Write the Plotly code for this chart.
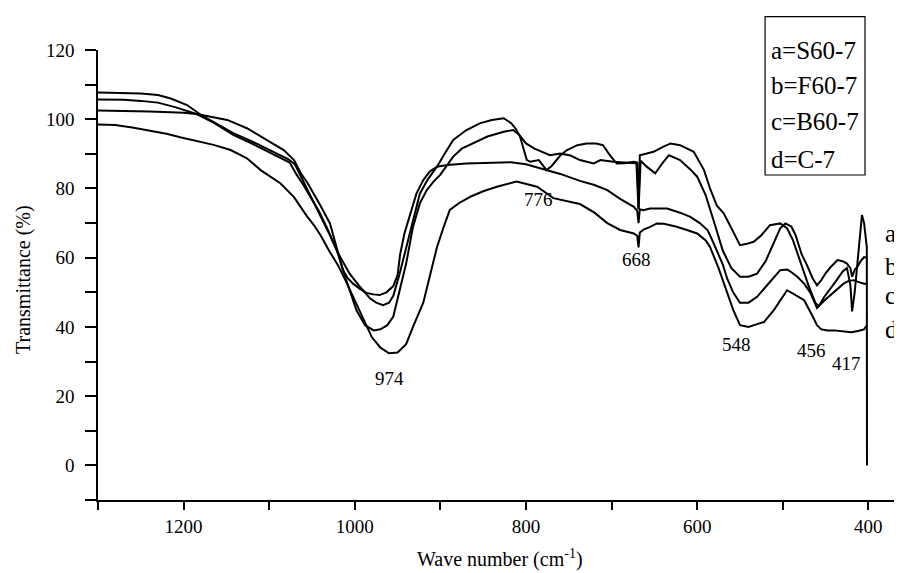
import plotly.graph_objects as go

# ---- data (wavenumber cm^-1, transmittance %) ----
wn_a = [1300,1270,1250,1230,1215,1196,1177,1160,1142,1122,1103,1087,1078,1070,1060,1050,1040,1030,1020,1010,1006,994,982,975,967,960,955,948,940,932,924,915,904,895,885,870,854,840,826,817,811,807,799,795,785,776,770,760,752,740,729,718,710,702,694,685,674,670,668.5,667,664,651,640,631,620,604,592,585,577,569,560,550,542,534,525,515,503,495,488,480,470,462,458,452,444,437,430,425,421,419,416,412,409,407.5,405,403,401.8,401.6]
T_a = [107.7,107.6,107.4,107,106,104.1,100.8,98.5,96,93.8,91.5,89.5,88.5,87,82,76.7,72,67,61.5,57,55.4,51.6,48.2,47,46.3,47,49,55,63,71,78.5,82.5,86.3,90,94,96.8,98.8,99.8,100.3,98.8,96.9,95,88.2,87.7,88.2,85.3,86.5,89.5,91.1,92.5,93,93,92.5,89.6,87.2,87.3,87.7,87.5,74,89.6,89.8,90.6,92,93,92.5,90.6,85.3,80,75,72.8,68.5,63.6,64,64.6,66.5,69.4,69.9,68.5,65,59,52,47,46,48.5,51,53.5,56,57,52,44.5,50,60,68,72.3,70,66,63,0]

wn_b = [1300,1270,1250,1230,1210,1196,1185,1165,1142,1122,1103,1085,1076,1068,1060,1052,1042,1033,1021,1010,998,988,978,970,962,955,948,940,932,924,916,908,900,885,875,862,845,826,815,808,800,790,780,772,760,748,737,721,713,698,685,675,671,668.5,666,659,649,640,633,620,608,600,590,581,570,560,550,540,530,520,511,503,497,490,485,478,472,465,460,455,450,444,436,430,425,421,419,416,413,409,405,401.6]
T_b = [105.7,105.6,105.3,104.8,103.5,102.3,101.5,99,95.5,93.2,90.8,88.7,87.5,84,81,77.6,73.5,68.9,62.2,53.5,44.8,40.5,39,39.3,40.5,43,50,58.3,68.9,75.7,79.5,82,84,89.2,91.5,93,95,96.4,96.9,95.5,93,91.5,90.5,89.6,90.1,89.5,88.2,87.2,88.2,87.7,87.5,87.5,87.3,74,88,86.3,84.4,87.5,89.6,88.2,85.5,83.4,78,70.9,62,57,54.5,54.5,55.4,59,64.1,68.5,69.9,69,66.5,61,58,54,52,53.5,55.5,57.3,59.3,59,58.3,57,54.5,56.5,57.3,59,60.2,60]

wn_c = [1300,1270,1240,1215,1200,1185,1165,1149,1126,1103,1083,1071,1063,1055,1048,1040,1029,1020,1014,1008,1002,994,986,978,971,963,955,950,947,942,935,928,920,912,904,892,870,845,818,800,775,760,737,720,705,690,674,670,668.5,667,663,655,635,620,608,597,588,585,577,570,565,558,550,540,530,520,510,503,495,491,483,475,468,460,452,444,436,429,423,417,412,405,401.6]
T_c = [102.5,102.4,102.2,102.0,101.9,101.5,100.6,99.8,97.4,94,91.1,88.2,84.4,81.5,78.6,75,69.9,62,56.5,54,52.5,51,49.8,49.4,49.2,50,51.8,55,61,67,72.8,78.5,82.4,85,86.3,86.8,87.2,87.4,87.6,87,85.3,84.2,82.2,81,79.5,77,74.7,73.5,70,74,73.7,74.2,74.2,73,71.8,70,68,66.5,62,58,54,50,47,47,48.7,51.5,54.5,56.4,56.6,56,54.5,52.5,50,45.5,47.5,49.2,51,52.5,53.3,53.5,53,52.5,52.5]

wn_d = [1300,1280,1260,1240,1220,1204,1185,1165,1145,1126,1110,1087,1071,1056,1048,1040,1030,1020,1010,1000,990,980,970,960,950,940,932,920,910,904,896,889,878,865,850,834,811,800,787,768,750,737,720,705,690,674,670,668.5,667,662,655,647,639,625,612,600,590,585,575,565,558,550,540,530,522,510,495,487,475,465,460,455,448,440,430,420,412,405,401.6]
T_d = [98.5,98.3,97.6,96.8,95.8,94.8,93.8,92.6,91.1,88.7,85.3,81.5,77.5,72,69.5,66.5,62,58,53,47.5,42,37,34,32.4,32.6,35,40,47,57,63,69,73.8,75.8,77.6,79.2,80.5,82,81.4,80.5,77.2,76.3,75.5,73,70,68,67,66.3,63,67.3,68.2,68.9,69.9,69.8,69,68,67,65,63.1,57,50,45,40.5,40,40.8,41.4,45,50.6,49.5,47.7,43,40.5,39.3,39,39,38.8,38.5,38.8,39.3,40.5]

series_names = ["a=S60-7", "b=F60-7", "c=B60-7", "d=C-7"]
peak_labels = ["974", "776", "668", "548", "456", "417"]
peak_x = [959, 785, 671, 553.5, 466, 425]
peak_y = [25.2, 76.7, 59.5, 34.8, 33.3, 29.4]
x_ticks = [1200, 1000, 800, 600, 400]
y_ticks = [0, 20, 40, 60, 80, 100, 120]

FONT = "Liberation Serif, Times New Roman, serif"

fig = go.Figure()
for wn, T, name in zip([wn_a, wn_b, wn_c, wn_d], [T_a, T_b, T_c, T_d], series_names):
    fig.add_trace(go.Scatter(x=wn, y=T, mode="lines", name=name,
                             line=dict(color="black", width=2), showlegend=False))

for t, x, y in zip(peak_labels, peak_x, peak_y):
    fig.add_annotation(x=x, y=y, xref="x", yref="y", text=t, showarrow=False,
                       xanchor="center", yanchor="middle",
                       font=dict(family=FONT, size=19, color="black"))

# legend box
fig.add_shape(type="rect", xref="paper", yref="paper", x0=0.8297, x1=0.954,
              y0=0.7222, y1=1.074, line=dict(color="black", width=1.2), fillcolor="white")
leg_y = [1.0, 0.92, 0.842, 0.757]
for name, yy in zip(series_names, leg_y):
    fig.add_annotation(x=0.835, y=yy, xref="paper", yref="paper", text=name, showarrow=False,
                       xanchor="left", yanchor="middle",
                       font=dict(family=FONT, size=25, color="black"))

# right-hand curve letters
letters = ["a", "b", "c", "d"]
let_y = [0.592, 0.52, 0.455, 0.38]
for l, yy in zip(letters, let_y):
    fig.add_annotation(x=0.976, y=yy, xref="paper", yref="paper", text=l, showarrow=False,
                       xanchor="left", yanchor="middle",
                       font=dict(family=FONT, size=25, color="black"))

# axis titles
fig.add_annotation(x=-0.092, y=0.489, xref="paper", yref="paper", text="Transmittance (%)",
                   textangle=-90, showarrow=False, xanchor="center", yanchor="middle",
                   font=dict(family=FONT, size=20, color="black"))
fig.add_annotation(x=0.5, y=-0.129, xref="paper", yref="paper",
                   text="Wave number (cm<sup>-1</sup>)", showarrow=False,
                   xanchor="center", yanchor="middle",
                   font=dict(family=FONT, size=20, color="black"))

# page body has an 8px margin: figure is shrunk by 8px and margins reduced so the
# plot area lands at screen x 98..902, y 50..500
fig.update_layout(
    width=894, height=565,
    margin=dict(l=90, r=0, t=42, b=73),
    paper_bgcolor="white", plot_bgcolor="white",
    font=dict(family=FONT, color="black"),
    xaxis=dict(range=[1300, 360.7], showgrid=False, zeroline=False, showline=True,
               linecolor="black", linewidth=1.5, ticks="outside", ticklen=8, tickwidth=1.5,
               tickcolor="black", tickvals=x_ticks, ticklabelstandoff=0,
               tickfont=dict(family=FONT, size=19, color="black"),
               minor=dict(ticks="outside", ticklen=8, tickwidth=1.5, tickcolor="black",
                          tickvals=[1300, 1100, 900, 700, 500])),
    yaxis=dict(range=[-10, 120], showgrid=False, zeroline=False, showline=True,
               linecolor="black", linewidth=1.5, ticks="outside", ticklen=11, tickwidth=1.5,
               tickcolor="black", tickvals=y_ticks, ticklabelstandoff=7,
               tickfont=dict(family=FONT, size=19, color="black"),
               minor=dict(ticks="outside", ticklen=11, tickwidth=1.5, tickcolor="black",
                          tickvals=[-10, 10, 30, 50, 70, 90, 110])),
)

fig.write_html("out.html")
